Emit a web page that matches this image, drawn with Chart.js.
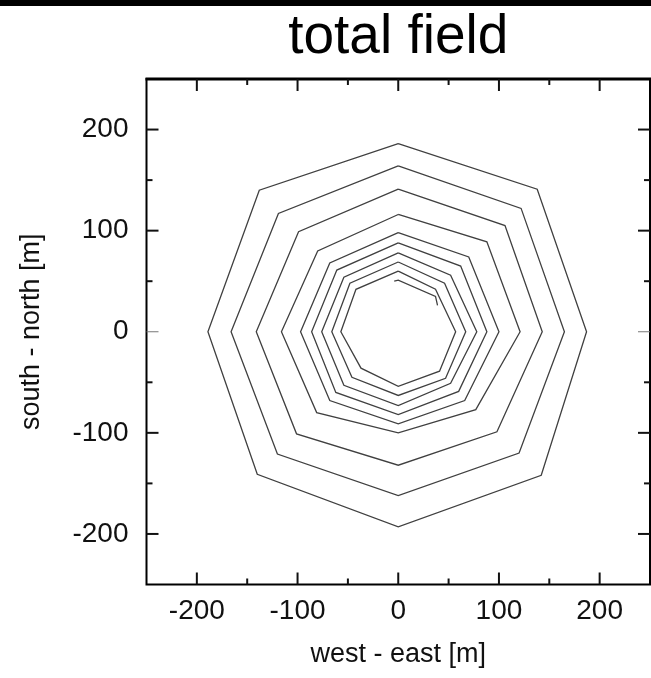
<!DOCTYPE html>
<html><head><meta charset="utf-8">
<script src="https://cdn.jsdelivr.net/npm/chart.js@4/dist/chart.umd.min.js"></script>
<style>html,body{margin:0;padding:0;background:#fff}canvas{display:block}</style>
</head><body>
<canvas id="c" width="651" height="678"></canvas>
<script>
const titleText = 'total field';
const xAxisTitle = 'west - east [m]';
const yAxisTitle = 'south - north [m]';
const xTicks = [-200, -100, 0, 100, 200];
const yTicks = [-200, -100, 0, 100, 200];
const minorTicks = [-150, -50, 50, 150];
const axisMin = -250, axisMax = 250;

// contour vertices [x, y] in metres, order: N, NE, E, SE, S, SW, W, NW
const contour1 = [[0,186],[138,141],[187,0],[142,-142],[0,-193],[-140,-141],[-189,0],[-138,140]];
const contour2 = [[0,164],[122,122],[165,0],[120,-120],[0,-162],[-120,-121],[-166,0],[-119,117]];
const contour3 = [[0,141],[106,105],[143,0],[98,-99],[0,-132],[-101,-101],[-141,0],[-99,99]];
const contour4 = [[0,116],[88,89],[121,0],[77,-77],[0,-100],[-81,-80],[-116,0],[-80,80]];
const contour5 = [[0,98],[70,74],[100,0],[66,-68],[0,-91],[-68,-68],[-97,0],[-68,68]];
const contour6 = [[0,88],[62,65],[88,0],[60,-59],[0,-82],[-62,-60],[-86,0],[-61,61]];
const contour7 = [[0,78],[52,56],[78,0],[52,-51],[0,-73],[-54,-53],[-76,0],[-54,54]];
const contour8 = [[0,69],[46,48],[67,0],[47,-46],[0,-63],[-46,-45],[-66,0],[-48,48]];
const contour9 = [[0,60],[37,42],[57,0],[41,-39],[0,-54],[-37,-36],[-57,0],[-42,42]];
const innerArc = [[-4,50],[0,51],[37,35],[39,26]];

const closedContours = [contour1, contour2, contour3, contour4, contour5, contour6, contour7, contour8, contour9];
const FONT = "'Liberation Sans', Arial, Helvetica, sans-serif";
const lineColor = '#404040';

const datasets = closedContours.map((c, i) => ({
  label: 'contour ' + (i + 1),
  data: c.concat([c[0]]).map(p => ({x: p[0], y: p[1]})),
  showLine: true, borderColor: lineColor, borderWidth: 1.3,
  pointRadius: 0, fill: false, tension: 0
}));
datasets.push({
  label: 'inner', data: innerArc.map(p => ({x: p[0], y: p[1]})),
  showLine: true, borderColor: lineColor, borderWidth: 1.3, pointRadius: 0, fill: false, tension: 0
});

const framePlugin = {
  id: 'frame',
  afterDraw(chart) {
    const {ctx, chartArea: a, scales: {x, y}} = chart;
    ctx.save();
    // top black band
    ctx.fillStyle = '#000';
    ctx.fillRect(0, 0, chart.width, 6);
    // title
    ctx.fillStyle = '#000';
    ctx.font = '55px ' + FONT;
    ctx.textAlign = 'center';
    ctx.textBaseline = 'alphabetic';
    ctx.fillText(titleText, (a.left + a.right) / 2, 53);
    // frame
    ctx.strokeStyle = '#000';
    ctx.lineWidth = 2;
    ctx.strokeRect(a.left, a.top, a.right - a.left, a.bottom - a.top);
    ctx.lineWidth = 3;
    ctx.beginPath(); ctx.moveTo(a.left - 1, a.top); ctx.lineTo(a.right + 1, a.top); ctx.stroke();
    // inward ticks
    const tick = (x1, y1, x2, y2, w, col) => {
      ctx.beginPath(); ctx.lineWidth = w; ctx.strokeStyle = col;
      ctx.moveTo(x1, y1); ctx.lineTo(x2, y2); ctx.stroke();
    };
    xTicks.forEach(v => { const px = x.getPixelForValue(v);
      tick(px, a.bottom, px, a.bottom - 12, 2, '#111');
      tick(px, a.top, px, a.top + 12, 2, '#111'); });
    minorTicks.forEach(v => { const px = x.getPixelForValue(v);
      tick(px, a.bottom, px, a.bottom - 6, 2, '#111');
      tick(px, a.top, px, a.top + 6, 2, '#111'); });
    yTicks.forEach(v => { const py = y.getPixelForValue(v);
      const w = v === 0 ? 1 : 2, col = v === 0 ? '#777' : '#111';
      tick(a.left, py, a.left + 12, py, w, col);
      tick(a.right, py, a.right - 12, py, w, col); });
    minorTicks.forEach(v => { const py = y.getPixelForValue(v);
      tick(a.left, py, a.left + 6, py, 2, '#111');
      tick(a.right, py, a.right - 6, py, 2, '#111'); });
    ctx.restore();
  }
};

new Chart(document.getElementById('c'), {
  type: 'scatter',
  data: {datasets},
  options: {
    responsive: false, animation: false,
    layout: {padding: {top: 79, right: 1, bottom: 0, left: 0}},
    plugins: {legend: {display: false}, tooltip: {enabled: false}, title: {display: false}},
    scales: {
      x: {
        type: 'linear', min: axisMin, max: axisMax,
        afterBuildTicks: s => { s.ticks = xTicks.map(v => ({value: v})); },
        afterFit: s => { s.height = 93.5; },
        grid: {display: false, drawTicks: false},
        border: {display: false},
        ticks: {font: {family: FONT, size: 28}, color: '#111', padding: 10, maxRotation: 0},
        title: {display: true, text: xAxisTitle, font: {family: FONT, size: 27}, color: '#111', padding: {top: 0, bottom: 7}}
      },
      y: {
        type: 'linear', min: axisMin, max: axisMax,
        afterBuildTicks: s => { s.ticks = yTicks.map(v => ({value: v})); },
        afterFit: s => { s.width = 146.5; },
        grid: {display: false, drawTicks: false},
        border: {display: false},
        ticks: {font: {family: FONT, size: 28}, color: '#111', padding: 18},
        title: {display: true, text: yAxisTitle, font: {family: FONT, size: 27}, color: '#111', padding: {top: 15, bottom: 0}}
      }
    }
  },
  plugins: [framePlugin]
});
</script>
</body></html>
